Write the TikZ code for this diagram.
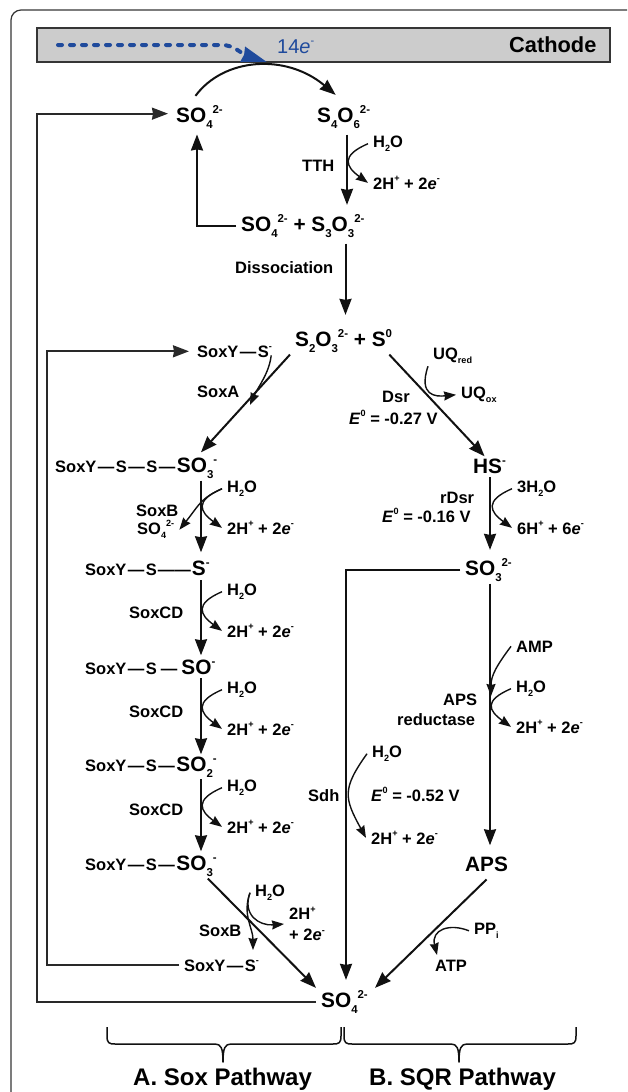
\documentclass[tikz,border=0pt]{standalone}
\usepackage{fontspec}
\setmainfont{Liberation Sans}
\usetikzlibrary{arrows.meta}
\definecolor{inkc}{HTML}{111111}
\definecolor{bluec}{HTML}{1F4A9C}
\definecolor{barc}{HTML}{CCCCCC}
\newcommand{\dn}[1]{\raisebox{-.3em}{\scalebox{.55}{#1}}}
\newcommand{\up}[1]{\raisebox{.43em}{\scalebox{.55}{#1}}}
\newcommand{\chemfont}{\bfseries\fontsize{20.8}{23}\selectfont}
\newcommand{\labfont}{\bfseries\fontsize{16.5}{21}\selectfont}
\newcommand{\water}{H\dn{2}O}
\newcommand{\elec}{\textit{e}\up{-}}
\newcommand{\prot}{2H\up{+} + 2\elec}
\newcommand{\bond}{\kern1.5pt—\kern1.5pt}
\tikzset{
    lab/.style={anchor=base west, inner xsep=5pt, inner ysep=2pt, xshift=-5pt, text=black, font=\labfont},
    chem/.style={lab, font=\chemfont},
    title/.style={anchor=base west, inner sep=0pt, font=\bfseries\fontsize{24}{26}\selectfont},
    arr/.style={draw=inkc, line width=2pt, -{Stealth[length=16pt, width=12pt, inset=1pt]}},
    thinarr/.style={draw=inkc, line width=1.4pt, -{Stealth[length=12pt, width=9pt, inset=1pt]}},
    ret/.style={draw=inkc!90!white, line width=1.8pt, -{Stealth[length=16pt, width=12pt, inset=1pt]}},
    brace/.style={draw=inkc, line width=1.5pt, line join=round},
}
\begin{document}
\begin{tikzpicture}[x=1pt, y=-1pt]
        \useasboundingbox (0,0) rectangle (627,1092);
        \draw[draw=inkc!85!white, line width=1.2pt, rounded corners=10pt] (11,1092) -- (11,10) -- (627,10);
        \node[draw=inkc!85!white, fill=barc, line width=2.4pt, minimum width=573pt, minimum height=34pt, inner sep=0pt] (cathode) at (323.5,45) {};
        \node[anchor=base west, inner sep=0pt, font=\bfseries\fontsize{21.8}{24}\selectfont] (cathodelab) at (509,52) {Cathode};
        \node[anchor=base west, inner sep=0pt, text=bluec, font=\fontsize{20}{22}\selectfont] (fourteen) at (277,53) {14\elec};
        % x positions of the long stems
        \coordinate (stema) at (201,0);
        \coordinate (stemb) at (490,0);
        \coordinate (stemc) at (346,0);
        \coordinate (stemd) at (347,0);
        \coordinate (steme) at (345.5,0);
        \coordinate (stemf) at (197,0);
        \coordinate (reta) at (37,0);
        \coordinate (retb) at (47,0);
        \coordinate (bluestart) at (58,45);
        \coordinate (blueend) at (267,62);
        \coordinate (soxain) at (250,405);
        \coordinate (ampin) at (491,696);
        \coordinate (soxbout) at (253,950);
        \coordinate (atpin) at (437,955);
        % top loop
        \node[chem] (sofoura) at (176,122) {SO\dn{4}\up{2-}};
        \node[chem] (sfour) at (317,122) {S\dn{4}O\dn{6}\up{2-}};
        \node[lab] (watera) at (373,147) {\water};
        \node[lab] (prota) at (373,189) {\prot};
        \node[lab] (tth) at (302,171) {TTH};
        \node[chem] (sthree) at (241,231) {SO\dn{4}\up{2-} + S\dn{3}O\dn{3}\up{2-}};
        \node[lab] (dissoc) at (235,273) {Dissociation};
        \node[chem] (stwo) at (295,346) {S\dn{2}O\dn{3}\up{2-} + S\up{0}};
        % sox side
        \node[lab] (soxya) at (197,357) {SoxY\bond S\up{-}};
        \node[lab] (soxalab) at (197,397) {SoxA};
        \node[lab] (soxyb) at (55,472) {SoxY\bond S\bond S\bond{\chemfont SO\dn{3}\up{-}}};
        \node[lab] (waterb) at (227,492) {\water};
        \node[lab] (protb) at (227,534) {\prot};
        \node[lab] (soxblab) at (136,516) {SoxB};
        \node[lab] (sofourb) at (137,534) {SO\dn{4}\up{2-}};
        \node[lab] (soxyc) at (85,575) {SoxY\bond S\kern1pt——\kern1pt{\chemfont S\up{-}}};
        \node[lab] (waterc) at (227,595) {\water};
        \node[lab] (protc) at (227,637) {\prot};
        \node[lab] (soxcda) at (129,618) {SoxCD};
        \node[lab] (soxyd) at (85,674) {SoxY\bond S\kern4pt—\kern4pt{\chemfont SO\up{-}}};
        \node[lab] (waterd) at (227,693) {\water};
        \node[lab] (protd) at (227,735) {\prot};
        \node[lab] (soxcdb) at (129,717) {SoxCD};
        \node[lab] (soxye) at (85,771) {SoxY\bond S\bond{\chemfont SO\dn{2}\up{-}}};
        \node[lab] (watere) at (227,791) {\water};
        \node[lab] (prote) at (227,833) {\prot};
        \node[lab] (soxcdc) at (129,815) {SoxCD};
        \node[lab] (soxyf) at (85,870) {SoxY\bond S\bond{\chemfont SO\dn{3}\up{-}}};
        \node[lab] (waterf) at (255,896) {\water};
        \node[lab, anchor=west, align=left] (protf) at (289,924) {2H\up{+}\\+ 2\elec};
        \node[lab] (soxbb) at (199,936) {SoxB};
        \node[lab] (soxyg) at (184,971) {SoxY\bond S\up{-}};
        % sqr side
        \node[lab] (uqred) at (433,359) {UQ\dn{red}};
        \node[lab] (uqox) at (461,398) {UQ\dn{ox}};
        \node[lab] (dsr) at (382,402) {Dsr};
        \node[lab] (edsr) at (349,424) {\textit{E}\up{0} = -0.27 V};
        \node[chem] (hs) at (473,473) {HS\up{-}};
        \node[lab] (waterg) at (517,492) {3\water};
        \node[lab] (protg) at (517,534) {6H\up{+} + 6\elec};
        \node[lab] (rdsr) at (440,503) {rDsr};
        \node[lab] (erdsr) at (382,522) {\textit{E}\up{0} = -0.16 V};
        \node[chem] (sothree) at (465,575) {SO\dn{3}\up{2-}};
        \node[lab] (amp) at (516,652) {AMP};
        \node[lab] (waterh) at (516,692) {\water};
        \node[lab] (proth) at (516,733) {\prot};
        \node[lab] (apslab) at (443,705) {APS};
        \node[lab] (reduct) at (397,725) {reductase};
        \node[lab] (wateri) at (372,757) {\water};
        \node[lab] (proti) at (371,844) {\prot};
        \node[lab] (sdh) at (308,801) {Sdh};
        \node[lab] (esdh) at (371,801) {\textit{E}\up{0} = -0.52 V};
        \node[chem] (aps) at (465,871) {APS};
        \node[lab] (ppi) at (474,934) {PP\dn{i}};
        \node[lab] (atp) at (435,971) {ATP};
        \node[chem] (sofourc) at (321,1007) {SO\dn{4}\up{2-}};
        \node[title] (sox) at (133,1085) {A. Sox Pathway};
        \node[title] (sqr) at (369,1085) {B. SQR Pathway};
        % connectors
        \draw[bluec, line width=4pt, line cap=round, dash pattern=on 4pt off 8pt, -{Stealth[length=25pt, width=15pt, inset=1pt]}] (bluestart) -- +(164,0) .. controls +(12,0) and +(-25,-8) .. (blueend);
        \draw[arr] ([xshift=-4pt, yshift=7pt]sofoura.north) .. controls +(28,-38) and +(-50,-42) .. ([xshift=-8pt, yshift=8pt]sfour.north);
        % vertical stems: from, to, stem, gap at start, gap at end
        \foreach \from/\to/\stem/\sa/\sb in {sfour/sthree/stemd/4/7, sthree/stwo/steme/4/12, soxyb/soxyc/stema/0/6, soxyc/soxyd/stema/3/2, soxyd/soxye/stema/2/0, soxye/soxyf/stema/0/2, hs/sothree/stemb/2/6, sothree/aps/stemb/0/9}
            \draw[arr, shorten <=\sa pt, shorten >=\sb pt] (\from.south -| \stem) -- (\to.north -| \stem);
        \draw[arr] (sthree.west) -| ([yshift=-4pt]sofoura.south -| stemf);
        \draw[arr] (stwo.south west) -- ([yshift=3pt]soxyb.north -| stema);
        \draw[arr] ([xshift=-8pt]stwo.south east) -- ([xshift=-5pt]hs.north);
        \draw[arr] ([xshift=-14pt]soxyf.south east) -- (sofourc.north west);
        \draw[arr] ([yshift=-6pt]aps.south) -- ([xshift=2pt]sofourc.north east);
        \draw[arr, shorten >=8pt] (sothree.west) -| (sofourc.north -| stemc);
        \draw[ret] (sofourc.west) -- (sofourc.west -| reta) -- ([yshift=3pt]sofoura.west -| reta) -- ([xshift=-3pt, yshift=3pt]sofoura.west);
        \draw[ret] (soxyg.west) -- (soxyg.west -| retb) -- (soxya.west -| retb) -- ([xshift=-3pt]soxya.west);
        \foreach \from/\to in {watera/prota, waterb/protb, waterc/protc, waterd/protd, watere/prote, waterg/protg, waterh/proth}
            \draw[thinarr] (\from.west) .. controls +(-28,12) and +(-22,-16) .. (\to.west);
        \draw[thinarr] (waterb.west) .. controls +(-22,10) and +(20,-25) .. (sofourb.east);
        \draw[thinarr] (wateri.west) .. controls +(-25,35) and +(-22,-40) .. (proti.west);
        \draw[thinarr] ([xshift=-6pt, yshift=4pt]soxya.south east) .. controls +(-2,18) and +(8,-18) .. (soxain);
        \draw[thinarr] (uqred.south west) .. controls +(-10,30) and +(-20,2) .. (uqox.west);
        \draw[thinarr] (amp.west) .. controls +(-15,20) and +(0,-20) .. (ampin);
        \draw[thinarr] (waterf.west) .. controls +(-8,22) and +(-25,2) .. (protf.west);
        \draw[thinarr] (waterf.west) .. controls +(-8,22) and +(0,-22) .. (soxbout);
        \draw[thinarr] (ppi.west) .. controls +(-20,-8) and +(-6,-25) .. (atpin);
        \foreach \xa/\xm/\xb in {107/223/341, 344/459/576}
            \draw[brace] (\xa,1027) -- (\xa,1036) .. controls (\xa,1043) and (\xa+2,1044) .. (\xa+8,1044) -- (\xm-8,1044) .. controls (\xm-2,1044) and (\xm,1048) .. (\xm,1062) .. controls (\xm,1048) and (\xm+2,1044) .. (\xm+8,1044) -- (\xb-8,1044) .. controls (\xb-2,1044) and (\xb,1043) .. (\xb,1036) -- (\xb,1027);
    \end{tikzpicture}
\end{document}
